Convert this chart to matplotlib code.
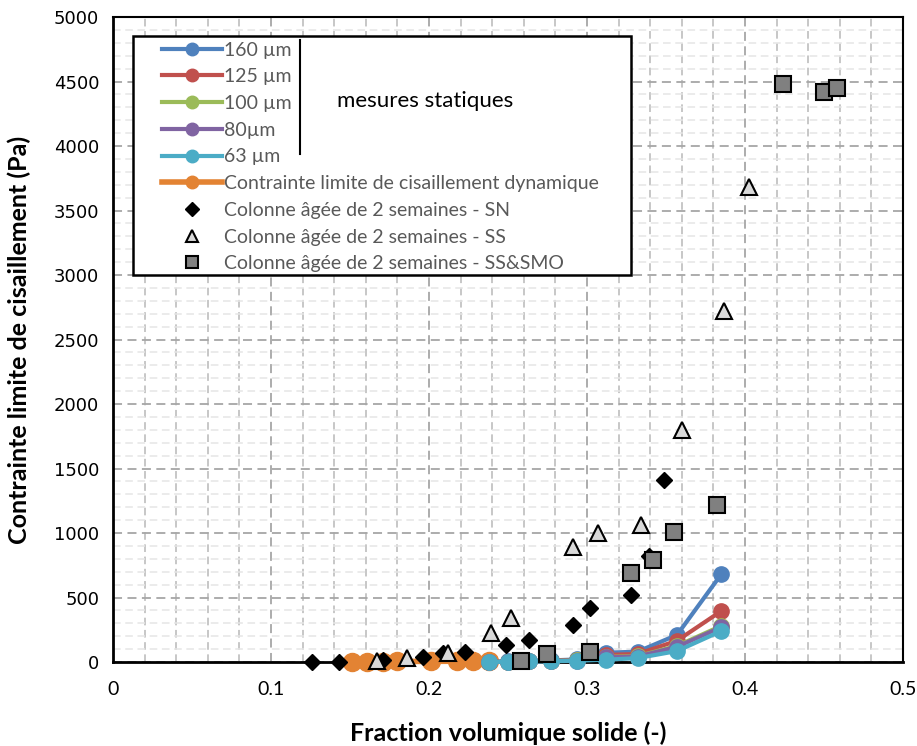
import matplotlib.pyplot as plt
from matplotlib.lines import Line2D
from matplotlib.patches import Rectangle
from matplotlib.ticker import MultipleLocator

# Donnees
x_tailles = [0.238, 0.250, 0.263, 0.277, 0.294, 0.312, 0.332, 0.357, 0.385]
y_160 = [0, 4, 8, 12, 20, 72, 80, 210, 680]
y_125 = [0, 3, 6, 10, 16, 55, 62, 165, 395]
y_100 = [0, 2, 5, 8, 12, 40, 45, 125, 280]
y_80 = [0, 2, 4, 7, 11, 36, 42, 118, 270]
y_63 = [0, 2, 4, 6, 10, 18, 30, 85, 240]

x_dyn = [0.151, 0.161, 0.171, 0.180, 0.201, 0.218, 0.228, 0.238]
y_dyn = [2, 3, 3, 4, 5, 6, 7, 8]

x_sn = [0.126, 0.143, 0.171, 0.196, 0.209, 0.223, 0.249, 0.263, 0.291, 0.302, 0.328, 0.339, 0.349]
y_sn = [0, 2, 15, 39, 70, 78, 132, 171, 287, 419, 519, 822, 1411]

x_ss = [0.167, 0.186, 0.212, 0.239, 0.252, 0.291, 0.307, 0.334, 0.360, 0.387, 0.4025]
y_ss = [10, 31, 70, 225, 341, 891, 1000, 1062, 1798, 2721, 3682]

x_smo = [0.258, 0.275, 0.302, 0.328, 0.342, 0.355, 0.382, 0.424, 0.450, 0.458]
y_smo = [5, 62, 78, 690, 791, 1008, 1217, 4483, 4419, 4447]

series = [
    ('160 µm', y_160, '#4F81BD'),
    ('125 µm', y_125, '#C0504D'),
    ('100 µm', y_100, '#9BBB59'),
    ('80µm', y_80, '#8064A2'),
    ('63 µm', y_63, '#4BACC6'),
]
orange = '#E38333'

fig = plt.figure(figsize=(9.17, 7.46), dpi=100)
ax = fig.add_axes([0.1232, 0.1126, 0.8615, 0.8646])

# Courbes statiques
for nom, y, c in series:
    ax.plot(x_tailles, y, color=c, lw=3, marker='o', ms=11, zorder=3, clip_on=False)

# Contrainte dynamique
ax.plot(x_dyn, y_dyn, color=orange, lw=4, marker='o', ms=13, zorder=2.5, clip_on=False)

# Colonnes
ax.plot(x_sn, y_sn, ls='none', marker='D', ms=8, color='black', zorder=4, clip_on=False)
ax.plot(x_ss, y_ss, ls='none', marker='^', ms=11, mfc='#D9D9D9', mec='black', mew=1.5,
        zorder=4, clip_on=False)
ax.plot(x_smo, y_smo, ls='none', marker='s', ms=11, mfc='#808080', mec='black', mew=1.5,
        zorder=4, clip_on=False)

ax.set_xlim(0, 0.5)
ax.set_ylim(0, 5000)
ax.xaxis.set_major_locator(MultipleLocator(0.1))
ax.xaxis.set_minor_locator(MultipleLocator(0.02))
ax.yaxis.set_major_locator(MultipleLocator(500))
ax.yaxis.set_minor_locator(MultipleLocator(100))
ax.xaxis.set_major_formatter(plt.FuncFormatter(lambda v, p: '0' if v == 0 else f'{v:g}'))

ax.grid(which='major', axis='both', color='#A6A6A6', ls=(0, (5, 3)), lw=1.3, zorder=0)
ax.grid(which='minor', axis='x', color='#B8B8B8', ls=(0, (5, 3)), lw=1.1, zorder=0)
ax.grid(which='minor', axis='y', color='#E6E6E6', ls=(0, (5, 3)), lw=1.1, zorder=0)
ax.set_axisbelow(True)

for s in ax.spines.values():
    s.set_color('black')
    s.set_linewidth(1.5)
    s.set_zorder(2)
ax.spines['left'].set_linewidth(2)
ax.spines['bottom'].set_linewidth(2)

ax.tick_params(which='both', length=0)
ax.tick_params(axis='y', labelsize=13, pad=10)
ax.tick_params(axis='x', labelsize=14, pad=14)
for t in ax.get_yticklabels():
    t.set_fontfamily('DejaVu Sans')
for t in ax.get_xticklabels():
    t.set_fontfamily('Lato')

ax.set_xlabel('Fraction volumique solide (-)', fontsize=18, fontweight='bold', family='Lato')
ax.set_ylabel('Contrainte limite de cisaillement (Pa)', fontsize=18, fontweight='bold', family='Lato')
ax.xaxis.set_label_coords(0.5, -0.092)
ax.yaxis.set_label_coords(-0.104, 0.5)

# Legende
handles = [Line2D([], [], color=c, lw=3, marker='o', ms=9) for _, _, c in series]
handles.append(Line2D([], [], color=orange, lw=4, marker='o', ms=9))
handles.append(Line2D([], [], ls='none', marker='D', ms=7, color='black'))
handles.append(Line2D([], [], ls='none', marker='^', ms=9, mfc='#D9D9D9', mec='black', mew=1.5))
handles.append(Line2D([], [], ls='none', marker='s', ms=9, mfc='#808080', mec='black', mew=1.5))
labels = [s[0] for s in series] + [
    'Contrainte limite de cisaillement dynamique',
    'Colonne âgée de 2 semaines - SN',
    'Colonne âgée de 2 semaines - SS',
    'Colonne âgée de 2 semaines - SS&SMO',
]

cadre = Rectangle((0.0253, 0.600), 0.6304, 0.3705, transform=ax.transAxes,
                  facecolor='white', edgecolor='black', lw=1.8, zorder=5)
ax.add_patch(cadre)
leg = ax.legend(handles, labels, loc='upper left', bbox_to_anchor=(0.062, 0.962),
                frameon=False, borderpad=0, borderaxespad=0, handlelength=3.1,
                handletextpad=0.1, labelspacing=0.5,
                prop={'family': 'Lato', 'size': 14})
leg.set_zorder(6)
for t in leg.get_texts():
    t.set_color('#595959')

ax.plot([0.2367, 0.2367], [0.787, 0.965], transform=ax.transAxes, color='black', lw=1.5, zorder=7)
ax.text(0.395, 0.87, 'mesures statiques', transform=ax.transAxes, fontsize=16,
        family='Lato', color='black', ha='center', va='center', zorder=7)

plt.savefig('out.png', dpi=100)
